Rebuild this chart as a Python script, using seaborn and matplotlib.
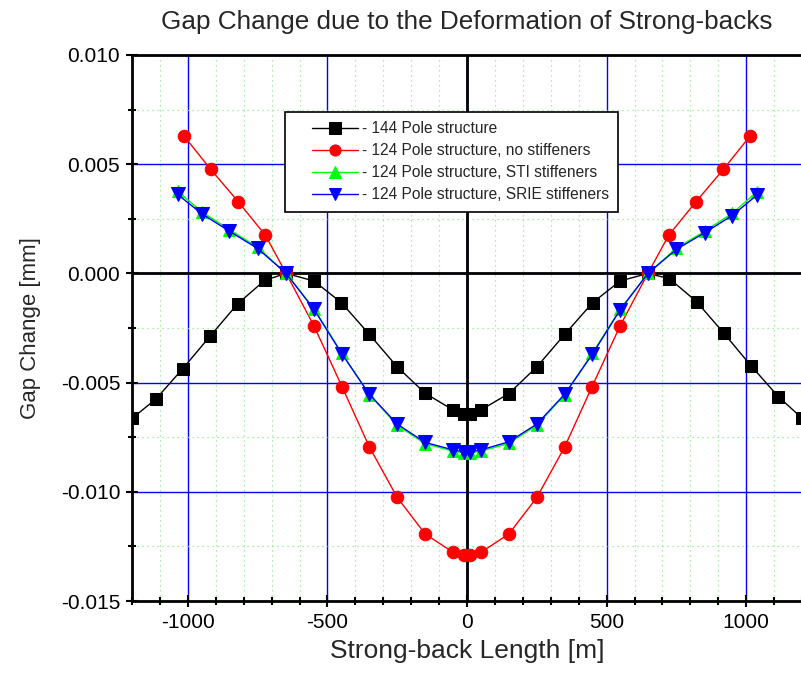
import matplotlib
matplotlib.use("Agg")
import matplotlib.pyplot as plt
import seaborn as sns
import numpy as np
import pandas as pd
from matplotlib.ticker import MultipleLocator
from matplotlib.lines import Line2D
from matplotlib.legend_handler import HandlerLine2D

# ---- data (x in m, y in 1e-3 mm) ----
black_x = [-1200, -1115, -1018, -920, -822, -725, -648, -548, -450, -350, -250, -150, -50, -12,
           12, 50, 150, 250, 350, 450, 548, 648, 725, 822, 920, 1018, 1115, 1200]
black_y = [-6.64, -5.76, -4.36, -2.87, -1.40, -0.32, 0.0, -0.35, -1.34, -2.79, -4.28, -5.49, -6.25, -6.42,
           -6.42, -6.25, -5.50, -4.28, -2.79, -1.34, -0.35, 0.0, -0.24, -1.29, -2.74, -4.24, -5.64, -6.63]

red_x = [-1015, -918, -820, -722, -648, -548, -448, -350, -250, -150, -50, -12,
         12, 50, 150, 250, 350, 448, 548, 648, 722, 820, 918, 1015]
red_y = [6.31, 4.76, 3.29, 1.74, 0.0, -2.41, -5.18, -7.94, -10.26, -11.93, -12.77, -12.88,
         -12.88, -12.77, -11.93, -10.26, -7.94, -5.18, -2.41, 0.0, 1.74, 3.28, 4.76, 6.31]

sti_x = [-1037, -950, -851, -750, -648, -548, -449, -350, -250, -150, -50, -12,
         12, 50, 150, 250, 350, 449, 548, 648, 750, 851, 950, 1037]
sti_y = [3.76, 2.82, 2.00, 1.20, 0.0, -1.62, -3.64, -5.55, -6.95, -7.80, -8.14, -8.22,
         -8.22, -8.14, -7.78, -6.95, -5.55, -3.66, -1.65, 0.0, 1.16, 1.93, 2.75, 3.72]

srie_x = [-1037, -950, -851, -750, -648, -548, -449, -350, -250, -150, -50, -12,
          12, 50, 150, 250, 350, 449, 548, 648, 750, 851, 950, 1037]
srie_y = [3.62, 2.73, 1.93, 1.14, 0.0, -1.65, -3.67, -5.53, -6.90, -7.74, -8.08, -8.17,
          -8.17, -8.08, -7.71, -6.90, -5.53, -3.70, -1.68, 0.0, 1.10, 1.86, 2.65, 3.57]

labels = ["- 144 Pole structure",
          "- 124 Pole structure, no stiffeners",
          "- 124 Pole structure, STI stiffeners",
          "- 124 Pole structure, SRIE stiffeners"]

sns.set_theme(style="white")
plt.rcParams['font.family'] = ['Liberation Sans', 'DejaVu Sans']
plt.rcParams['axes.unicode_minus'] = False

fig = plt.figure(figsize=(8.01, 6.89), dpi=100)
ax = fig.add_axes([0.1648, 0.1277, 0.8365, 0.7925])

series = [
    (black_x, black_y, "black", "s", 8, labels[0]),
    (red_x, red_y, "#FF0000", "o", 9, labels[1]),
    (sti_x, sti_y, "#00FF00", "^", 9, labels[2]),
    (srie_x, srie_y, "#0000FF", "v", 9.5, labels[3]),
]
for xs, ys, col, mk, ms, lab in series:
    df = pd.DataFrame({"x": xs, "y": np.array(ys) * 1e-3})
    sns.lineplot(data=df, x="x", y="y", ax=ax, color=col, marker=mk, markersize=ms,
                 markeredgecolor=col, markerfacecolor=col, linewidth=1.0, sort=False,
                 estimator=None, label=lab, zorder=5)

ax.set_xlim(-1200, 1200)
ax.set_ylim(-0.015, 0.010)
ax.xaxis.set_major_locator(MultipleLocator(500))
ax.xaxis.set_minor_locator(MultipleLocator(100))
ax.yaxis.set_major_locator(MultipleLocator(0.005))
ax.yaxis.set_minor_locator(MultipleLocator(0.0025))
ax.set_yticks([-0.015, -0.010, -0.005, 0.0, 0.005, 0.010])
ax.set_yticklabels(["-0.015", "-0.010", "-0.005", "0.000", "0.005", "0.010"])

ax.grid(which="major", color="#0000FF", linestyle="-", linewidth=1.0, zorder=1)
ax.grid(which="minor", color="#8FE88F", linestyle=(0, (1, 3)), linewidth=0.9, zorder=0)
ax.axhline(0, color="black", linewidth=2, zorder=2)
ax.axvline(0, color="black", linewidth=2, zorder=2)

for s in ax.spines.values():
    s.set_color("black")
    s.set_linewidth(2)

ax.tick_params(which="major", direction="inout", length=9, width=1.5, colors="black",
               labelsize=15, pad=4, left=True, bottom=True)
ax.tick_params(which="minor", direction="inout", length=6, width=1.5, colors="black",
               left=True, bottom=True)

ax.set_xlabel("Strong-back Length [m]", fontsize=19, labelpad=5)
ax.set_ylabel("Gap Change [mm]", fontsize=16, labelpad=14)
ax.set_title("Gap Change due to the Deformation of Strong-backs", fontsize=18.8, pad=19)

leg = ax.legend(loc="upper left", bbox_to_anchor=(0.2284, 0.8956), borderaxespad=0,
                fontsize=11.2, frameon=True, fancybox=False, edgecolor="black", framealpha=1,
                handlelength=4.1, borderpad=0.6, labelspacing=0.45, handletextpad=0.25,
                handler_map={Line2D: HandlerLine2D(xpad=1.15)})
leg.get_frame().set_linewidth(1.2)
for h in leg.legend_handles:
    h.set_markersize(8)

fig.savefig("out.png", dpi=100)
